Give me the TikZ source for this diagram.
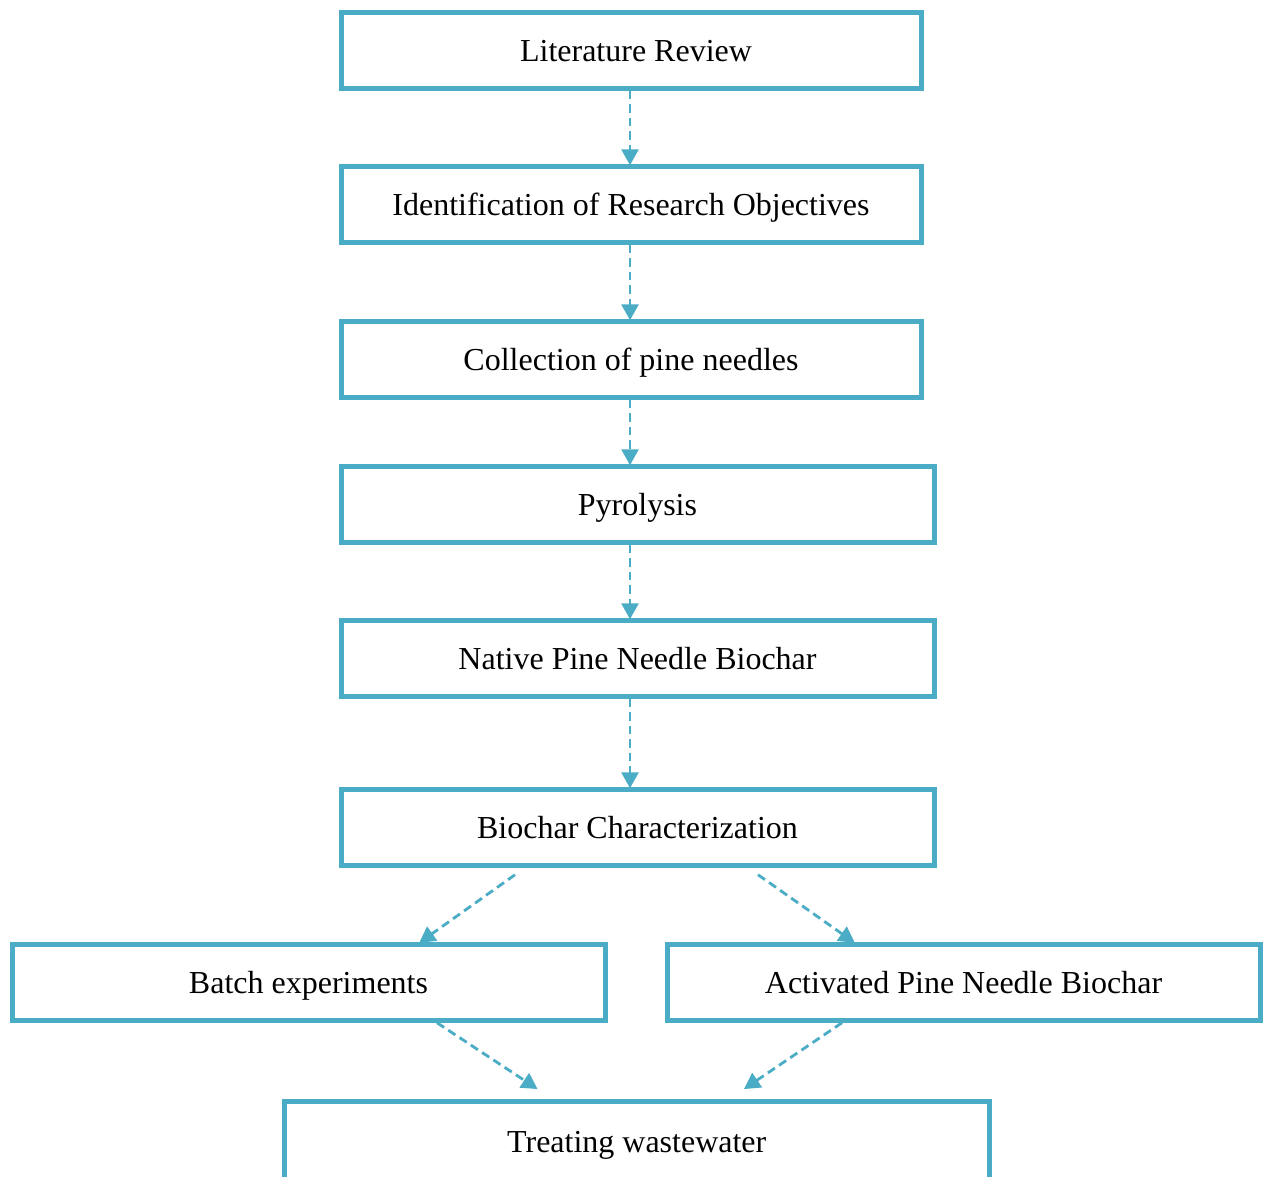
\documentclass[tikz,border=0pt]{standalone}
\usepackage{fontspec}
\setmainfont{Liberation Serif}
\usetikzlibrary{arrows.meta}
\definecolor{boxblue}{RGB}{75,172,198}
\begin{document}
\begin{tikzpicture}[x=1pt,y=-1pt,
  stepbox/.style={draw=boxblue, line width=5pt, rectangle, minimum height=75.5pt,
    inner sep=0pt, text height=21pt, text depth=0pt,
    font=\fontsize{32}{36}\selectfont, text=black},
  flow/.style={draw=boxblue, line width=2.8pt, dash pattern=on 8.5pt off 5pt,
    -{Triangle[length=16pt,width=17pt]}, shorten >=-1pt}]
\useasboundingbox (0,0) rectangle (1263,1176);
\node[stepbox, minimum width=580pt] (b1) at (631,50.5) {\hspace*{10pt}Literature Review};
\node[stepbox, minimum width=580pt] (b2) at (631,204.5) {Identification of Research Objectives};
\node[stepbox, minimum width=580pt] (b3) at (631,359.5) {Collection of pine needles};
\node[stepbox, minimum width=593pt] (b4) at (637.5,504.5) {Pyrolysis};
\node[stepbox, minimum width=593pt] (b5) at (637.5,658.5) {Native Pine Needle Biochar};
\node[stepbox, minimum width=593pt] (b6) at (637.5,827.5) {Biochar Characterization};
\node[stepbox, minimum width=593pt] (b7) at (308.5,982.5) {Batch experiments};
\node[stepbox, minimum width=593pt] (b8) at (963.5,982.5) {Activated Pine Needle Biochar};
\node[stepbox, minimum width=704.5pt, minimum height=82pt] (b9) at (636.75,1142) {Treating wastewater};
\draw[flow] ([xshift=-1pt]b1.south) -- ([xshift=-1pt]b2.north);
\draw[flow] ([xshift=-1pt]b2.south) -- ([xshift=-1pt]b3.north);
\draw[flow] ([xshift=-1pt]b3.south) -- ([xshift=-1pt]b3.south |- b4.north);
\draw[flow] ([xshift=-7.5pt]b4.south) -- ([xshift=-7.5pt]b5.north);
\draw[flow] ([xshift=-7.5pt]b5.south) -- ([xshift=-7.5pt]b6.north);
\draw[flow] ([xshift=-122.5pt,yshift=-7pt]b6.south) -- ([xshift=111.5pt]b7.north);
\draw[flow] ([xshift=120.5pt,yshift=-7pt]b6.south) -- ([xshift=-109.5pt]b8.north);
\draw[flow] ([xshift=128.5pt]b7.south) -- ([xshift=-100pt,yshift=10pt]b9.north);
\draw[flow] ([xshift=-121.5pt]b8.south) -- ([xshift=108pt,yshift=10pt]b9.north);
\end{tikzpicture}
\end{document}
